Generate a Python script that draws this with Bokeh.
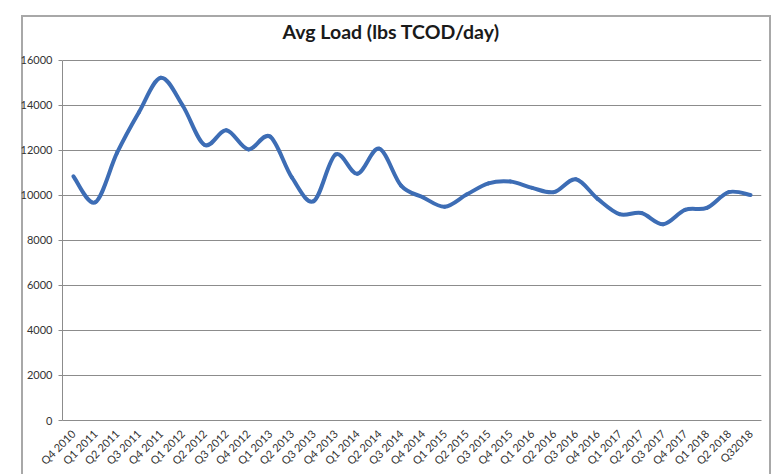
import numpy as np
from bokeh.plotting import figure
from bokeh.models import FixedTicker, Range1d, Title
from bokeh.embed import file_html
from bokeh.resources import INLINE

quarters = ["Q4 2010", "Q1 2011", "Q2 2011", "Q3 2011", "Q4 2011", "Q1 2012", "Q2 2012", "Q3 2012",
            "Q4 2012", "Q1 2013", "Q2 2013", "Q3 2013", "Q4 2013", "Q1 2014", "Q2 2014", "Q3 2014",
            "Q4 2014", "Q1 2015", "Q2 2015", "Q3 2015", "Q4 2015", "Q1 2016", "Q2 2016", "Q3 2016",
            "Q4 2016", "Q1 2017", "Q2 2017", "Q3 2017", "Q4 2017", "Q1 2018", "Q2 2018", "Q32018"]
avg_load = [10850, 9700, 11900, 13700, 15230, 14000, 12250, 12900, 12050, 12620, 10800, 9750,
            11820, 10970, 12080, 10440, 9920, 9500, 10040, 10540, 10620, 10340, 10150, 10720,
            9850, 9170, 9220, 8720, 9360, 9450, 10150, 10020]
y_ticks = [0, 2000, 4000, 6000, 8000, 10000, 12000, 14000, 16000]
title_text = "Avg Load (lbs TCOD/day)"

FONT = "Lato"

# frame extends a little above the 16000 line to leave room for the title;
# the y axis line itself is bounded to 0..16000
p = figure(width=758, height=464, output_backend="svg", toolbar_location=None,
           x_range=Range1d(-0.5, len(quarters) - 0.5), y_range=Range1d(0, 16533),
           min_border_left=49, min_border_right=10, min_border_top=38, min_border_bottom=54,
           margin=(10, 0, 0, 13),
           styles={"box-shadow": "inset 8px 5px 0 0 white, inset 10px 7px 0 0 #a8a8a8, "
                                 "inset -2px 0 0 0 #a8a8a8",
                   "background": "white"})

t = Title(text=title_text, align="left", offset=220, standoff=12,
          text_font=FONT, text_font_size="19.5px", text_font_style="bold", text_color="#1a1a1a")
p.add_layout(t, "above")

p.outline_line_color = None
p.background_fill_color = "white"
p.border_fill_alpha = 0

# y axis
p.yaxis.ticker = FixedTicker(ticks=y_ticks)
p.yaxis.bounds = (0, 16000)
p.yaxis.major_label_text_font = FONT
p.yaxis.major_label_text_font_size = "11px"
p.yaxis.major_label_text_color = "#333333"
p.yaxis.axis_line_color = "#8c8c8c"
p.yaxis.major_tick_line_color = "#8c8c8c"
p.yaxis.major_tick_out = 4
p.yaxis.major_tick_in = 0
p.yaxis.minor_tick_line_color = None
p.yaxis.major_label_standoff = 6

# x axis
p.xaxis.ticker = FixedTicker(ticks=list(range(len(quarters))))
p.xaxis.major_label_overrides = {i: q for i, q in enumerate(quarters)}
p.xaxis.major_label_orientation = np.pi / 4
p.xaxis.major_label_text_font = FONT
p.xaxis.major_label_text_font_size = "11px"
p.xaxis.major_label_text_color = "#333333"
p.xaxis.axis_line_color = "#8c8c8c"
p.xaxis.major_tick_line_color = None
p.xaxis.minor_tick_line_color = None
p.xaxis.major_label_standoff = 5

p.xgrid.grid_line_color = None
p.ygrid.grid_line_color = "#8c8c8c"
p.ygrid.grid_line_width = 1

# smoothed line (Catmull-Rom -> cubic Bezier segments)
xs = np.arange(len(avg_load), dtype=float)
ys = np.array(avg_load, dtype=float)
n = len(xs)
x0, y0, x1, y1, cx0, cy0, cx1, cy1 = [], [], [], [], [], [], [], []
for i in range(n - 1):
    pm = max(i - 1, 0)
    pp = min(i + 2, n - 1)
    x0.append(xs[i]); y0.append(ys[i])
    x1.append(xs[i + 1]); y1.append(ys[i + 1])
    cx0.append(xs[i] + (xs[i + 1] - xs[pm]) / 6)
    cy0.append(ys[i] + (ys[i + 1] - ys[pm]) / 6)
    cx1.append(xs[i + 1] - (xs[pp] - xs[i]) / 6)
    cy1.append(ys[i + 1] - (ys[pp] - ys[i]) / 6)

p.bezier(x0=x0, y0=y0, x1=x1, y1=y1, cx0=cx0, cy0=cy0, cx1=cx1, cy1=cy1,
         line_color="#3d6db5", line_width=4, line_cap="round")

open("out.html", "w").write(file_html(p, INLINE))
